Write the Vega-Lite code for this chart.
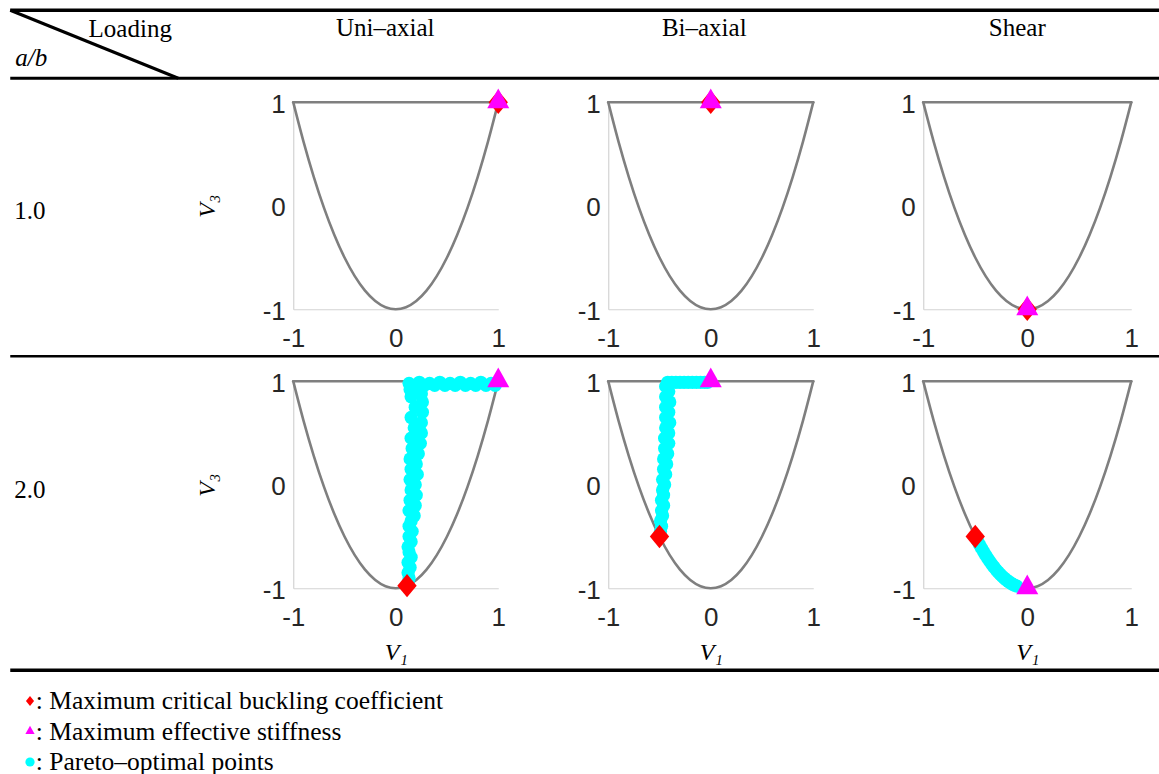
{
  "$schema": "https://vega.github.io/schema/vega-lite/v6.json",
  "background": "white",
  "padding": {"left": 8.25, "top": 8.25, "right": 0, "bottom": 0},
  "bounds": "flush",
  "align": "each",
  "columns": 4,
  "spacing": {"row": 72, "column": 110},
  "datasets": {
    "boundary": [
      {"edge": "curve", "v1": -1, "v3": 1},
      {"edge": "curve", "v1": -0.9, "v3": 0.62},
      {"edge": "curve", "v1": -0.8, "v3": 0.28},
      {"edge": "curve", "v1": -0.7, "v3": -0.02},
      {"edge": "curve", "v1": -0.6, "v3": -0.28},
      {"edge": "curve", "v1": -0.5, "v3": -0.5},
      {"edge": "curve", "v1": -0.4, "v3": -0.68},
      {"edge": "curve", "v1": -0.3, "v3": -0.82},
      {"edge": "curve", "v1": -0.2, "v3": -0.92},
      {"edge": "curve", "v1": -0.1, "v3": -0.98},
      {"edge": "curve", "v1": 0, "v3": -1},
      {"edge": "curve", "v1": 0.1, "v3": -0.98},
      {"edge": "curve", "v1": 0.2, "v3": -0.92},
      {"edge": "curve", "v1": 0.3, "v3": -0.82},
      {"edge": "curve", "v1": 0.4, "v3": -0.68},
      {"edge": "curve", "v1": 0.5, "v3": -0.5},
      {"edge": "curve", "v1": 0.6, "v3": -0.28},
      {"edge": "curve", "v1": 0.7, "v3": -0.02},
      {"edge": "curve", "v1": 0.8, "v3": 0.28},
      {"edge": "curve", "v1": 0.9, "v3": 0.62},
      {"edge": "curve", "v1": 1, "v3": 1},
      {"edge": "top", "v1": -1, "v3": 1},
      {"edge": "top", "v1": 1, "v3": 1}
    ],
    "markers": [
      {"panel": "U1", "kind": "Maximum critical buckling coefficient", "v1": 1, "v3": 1},
      {"panel": "U1", "kind": "Maximum effective stiffness", "v1": 1, "v3": 1},
      {"panel": "B1", "kind": "Maximum critical buckling coefficient", "v1": 0, "v3": 1},
      {"panel": "B1", "kind": "Maximum effective stiffness", "v1": 0, "v3": 1},
      {"panel": "S1", "kind": "Maximum critical buckling coefficient", "v1": 0, "v3": -1},
      {"panel": "S1", "kind": "Maximum effective stiffness", "v1": 0, "v3": -1},

      {"panel": "U2", "kind": "Pareto–optimal points", "v1": 0.12, "v3": -0.95},
      {"panel": "U2", "kind": "Pareto–optimal points", "v1": 0.13, "v3": -0.9},
      {"panel": "U2", "kind": "Pareto–optimal points", "v1": 0.12, "v3": -0.85},
      {"panel": "U2", "kind": "Pareto–optimal points", "v1": 0.14, "v3": -0.8},
      {"panel": "U2", "kind": "Pareto–optimal points", "v1": 0.12, "v3": -0.75},
      {"panel": "U2", "kind": "Pareto–optimal points", "v1": 0.15, "v3": -0.7},
      {"panel": "U2", "kind": "Pareto–optimal points", "v1": 0.13, "v3": -0.65},
      {"panel": "U2", "kind": "Pareto–optimal points", "v1": 0.12, "v3": -0.6},
      {"panel": "U2", "kind": "Pareto–optimal points", "v1": 0.15, "v3": -0.55},
      {"panel": "U2", "kind": "Pareto–optimal points", "v1": 0.13, "v3": -0.5},
      {"panel": "U2", "kind": "Pareto–optimal points", "v1": 0.16, "v3": -0.45},
      {"panel": "U2", "kind": "Pareto–optimal points", "v1": 0.13, "v3": -0.4},
      {"panel": "U2", "kind": "Pareto–optimal points", "v1": 0.15, "v3": -0.35},
      {"panel": "U2", "kind": "Pareto–optimal points", "v1": 0.18, "v3": -0.3},
      {"panel": "U2", "kind": "Pareto–optimal points", "v1": 0.13, "v3": -0.25},
      {"panel": "U2", "kind": "Pareto–optimal points", "v1": 0.19, "v3": -0.2},
      {"panel": "U2", "kind": "Pareto–optimal points", "v1": 0.14, "v3": -0.15},
      {"panel": "U2", "kind": "Pareto–optimal points", "v1": 0.2, "v3": -0.1},
      {"panel": "U2", "kind": "Pareto–optimal points", "v1": 0.15, "v3": -0.05},
      {"panel": "U2", "kind": "Pareto–optimal points", "v1": 0.19, "v3": 0},
      {"panel": "U2", "kind": "Pareto–optimal points", "v1": 0.14, "v3": 0.05},
      {"panel": "U2", "kind": "Pareto–optimal points", "v1": 0.21, "v3": 0.1},
      {"panel": "U2", "kind": "Pareto–optimal points", "v1": 0.15, "v3": 0.15},
      {"panel": "U2", "kind": "Pareto–optimal points", "v1": 0.2, "v3": 0.2},
      {"panel": "U2", "kind": "Pareto–optimal points", "v1": 0.14, "v3": 0.25},
      {"panel": "U2", "kind": "Pareto–optimal points", "v1": 0.22, "v3": 0.3},
      {"panel": "U2", "kind": "Pareto–optimal points", "v1": 0.16, "v3": 0.35},
      {"panel": "U2", "kind": "Pareto–optimal points", "v1": 0.24, "v3": 0.4},
      {"panel": "U2", "kind": "Pareto–optimal points", "v1": 0.15, "v3": 0.45},
      {"panel": "U2", "kind": "Pareto–optimal points", "v1": 0.25, "v3": 0.5},
      {"panel": "U2", "kind": "Pareto–optimal points", "v1": 0.18, "v3": 0.55},
      {"panel": "U2", "kind": "Pareto–optimal points", "v1": 0.25, "v3": 0.6},
      {"panel": "U2", "kind": "Pareto–optimal points", "v1": 0.15, "v3": 0.65},
      {"panel": "U2", "kind": "Pareto–optimal points", "v1": 0.26, "v3": 0.7},
      {"panel": "U2", "kind": "Pareto–optimal points", "v1": 0.19, "v3": 0.75},
      {"panel": "U2", "kind": "Pareto–optimal points", "v1": 0.26, "v3": 0.8},
      {"panel": "U2", "kind": "Pareto–optimal points", "v1": 0.15, "v3": 0.85},
      {"panel": "U2", "kind": "Pareto–optimal points", "v1": 0.25, "v3": 0.88},
      {"panel": "U2", "kind": "Pareto–optimal points", "v1": 0.14, "v3": 0.92},
      {"panel": "U2", "kind": "Pareto–optimal points", "v1": 0.21, "v3": 0.93},
      {"panel": "U2", "kind": "Pareto–optimal points", "v1": 0.13, "v3": 0.98},
      {"panel": "U2", "kind": "Pareto–optimal points", "v1": 0.18, "v3": 0.96},
      {"panel": "U2", "kind": "Pareto–optimal points", "v1": 0.23, "v3": 0.99},
      {"panel": "U2", "kind": "Pareto–optimal points", "v1": 0.28, "v3": 0.96},
      {"panel": "U2", "kind": "Pareto–optimal points", "v1": 0.33, "v3": 0.98},
      {"panel": "U2", "kind": "Pareto–optimal points", "v1": 0.38, "v3": 0.96},
      {"panel": "U2", "kind": "Pareto–optimal points", "v1": 0.43, "v3": 0.99},
      {"panel": "U2", "kind": "Pareto–optimal points", "v1": 0.48, "v3": 0.96},
      {"panel": "U2", "kind": "Pareto–optimal points", "v1": 0.53, "v3": 0.98},
      {"panel": "U2", "kind": "Pareto–optimal points", "v1": 0.58, "v3": 0.96},
      {"panel": "U2", "kind": "Pareto–optimal points", "v1": 0.63, "v3": 0.99},
      {"panel": "U2", "kind": "Pareto–optimal points", "v1": 0.68, "v3": 0.96},
      {"panel": "U2", "kind": "Pareto–optimal points", "v1": 0.73, "v3": 0.98},
      {"panel": "U2", "kind": "Pareto–optimal points", "v1": 0.78, "v3": 0.96},
      {"panel": "U2", "kind": "Pareto–optimal points", "v1": 0.83, "v3": 0.99},
      {"panel": "U2", "kind": "Pareto–optimal points", "v1": 0.88, "v3": 0.96},
      {"panel": "U2", "kind": "Pareto–optimal points", "v1": 0.93, "v3": 0.98},
      {"panel": "U2", "kind": "Pareto–optimal points", "v1": 0.97, "v3": 0.96},
      {"panel": "U2", "kind": "Maximum critical buckling coefficient", "v1": 0.11, "v3": -0.975},
      {"panel": "U2", "kind": "Maximum effective stiffness", "v1": 1, "v3": 1},

      {"panel": "B2", "kind": "Pareto–optimal points", "v1": -0.49, "v3": -0.45},
      {"panel": "B2", "kind": "Pareto–optimal points", "v1": -0.48, "v3": -0.4},
      {"panel": "B2", "kind": "Pareto–optimal points", "v1": -0.49, "v3": -0.35},
      {"panel": "B2", "kind": "Pareto–optimal points", "v1": -0.47, "v3": -0.3},
      {"panel": "B2", "kind": "Pareto–optimal points", "v1": -0.48, "v3": -0.25},
      {"panel": "B2", "kind": "Pareto–optimal points", "v1": -0.46, "v3": -0.2},
      {"panel": "B2", "kind": "Pareto–optimal points", "v1": -0.48, "v3": -0.15},
      {"panel": "B2", "kind": "Pareto–optimal points", "v1": -0.46, "v3": -0.1},
      {"panel": "B2", "kind": "Pareto–optimal points", "v1": -0.47, "v3": -0.05},
      {"panel": "B2", "kind": "Pareto–optimal points", "v1": -0.45, "v3": 0},
      {"panel": "B2", "kind": "Pareto–optimal points", "v1": -0.47, "v3": 0.05},
      {"panel": "B2", "kind": "Pareto–optimal points", "v1": -0.44, "v3": 0.1},
      {"panel": "B2", "kind": "Pareto–optimal points", "v1": -0.46, "v3": 0.15},
      {"panel": "B2", "kind": "Pareto–optimal points", "v1": -0.43, "v3": 0.2},
      {"panel": "B2", "kind": "Pareto–optimal points", "v1": -0.46, "v3": 0.25},
      {"panel": "B2", "kind": "Pareto–optimal points", "v1": -0.42, "v3": 0.3},
      {"panel": "B2", "kind": "Pareto–optimal points", "v1": -0.45, "v3": 0.35},
      {"panel": "B2", "kind": "Pareto–optimal points", "v1": -0.41, "v3": 0.4},
      {"panel": "B2", "kind": "Pareto–optimal points", "v1": -0.45, "v3": 0.45},
      {"panel": "B2", "kind": "Pareto–optimal points", "v1": -0.41, "v3": 0.5},
      {"panel": "B2", "kind": "Pareto–optimal points", "v1": -0.44, "v3": 0.55},
      {"panel": "B2", "kind": "Pareto–optimal points", "v1": -0.4, "v3": 0.6},
      {"panel": "B2", "kind": "Pareto–optimal points", "v1": -0.44, "v3": 0.65},
      {"panel": "B2", "kind": "Pareto–optimal points", "v1": -0.41, "v3": 0.7},
      {"panel": "B2", "kind": "Pareto–optimal points", "v1": -0.44, "v3": 0.75},
      {"panel": "B2", "kind": "Pareto–optimal points", "v1": -0.4, "v3": 0.8},
      {"panel": "B2", "kind": "Pareto–optimal points", "v1": -0.44, "v3": 0.85},
      {"panel": "B2", "kind": "Pareto–optimal points", "v1": -0.41, "v3": 0.9},
      {"panel": "B2", "kind": "Pareto–optimal points", "v1": -0.44, "v3": 0.95},
      {"panel": "B2", "kind": "Pareto–optimal points", "v1": -0.42, "v3": 0.99},
      {"panel": "B2", "kind": "Pareto–optimal points", "v1": -0.38, "v3": 0.99},
      {"panel": "B2", "kind": "Pareto–optimal points", "v1": -0.34, "v3": 0.99},
      {"panel": "B2", "kind": "Pareto–optimal points", "v1": -0.3, "v3": 0.99},
      {"panel": "B2", "kind": "Pareto–optimal points", "v1": -0.26, "v3": 0.99},
      {"panel": "B2", "kind": "Pareto–optimal points", "v1": -0.22, "v3": 0.99},
      {"panel": "B2", "kind": "Pareto–optimal points", "v1": -0.18, "v3": 0.99},
      {"panel": "B2", "kind": "Pareto–optimal points", "v1": -0.14, "v3": 0.99},
      {"panel": "B2", "kind": "Pareto–optimal points", "v1": -0.1, "v3": 0.99},
      {"panel": "B2", "kind": "Pareto–optimal points", "v1": -0.06, "v3": 0.99},
      {"panel": "B2", "kind": "Pareto–optimal points", "v1": -0.03, "v3": 0.99},
      {"panel": "B2", "kind": "Maximum critical buckling coefficient", "v1": -0.5, "v3": -0.5},
      {"panel": "B2", "kind": "Maximum effective stiffness", "v1": 0, "v3": 1},

      {"panel": "S2", "kind": "Pareto–optimal points", "v1": -0.48, "v3": -0.539},
      {"panel": "S2", "kind": "Pareto–optimal points", "v1": -0.46, "v3": -0.577},
      {"panel": "S2", "kind": "Pareto–optimal points", "v1": -0.44, "v3": -0.613},
      {"panel": "S2", "kind": "Pareto–optimal points", "v1": -0.42, "v3": -0.647},
      {"panel": "S2", "kind": "Pareto–optimal points", "v1": -0.4, "v3": -0.68},
      {"panel": "S2", "kind": "Pareto–optimal points", "v1": -0.38, "v3": -0.711},
      {"panel": "S2", "kind": "Pareto–optimal points", "v1": -0.36, "v3": -0.741},
      {"panel": "S2", "kind": "Pareto–optimal points", "v1": -0.34, "v3": -0.769},
      {"panel": "S2", "kind": "Pareto–optimal points", "v1": -0.32, "v3": -0.795},
      {"panel": "S2", "kind": "Pareto–optimal points", "v1": -0.3, "v3": -0.82},
      {"panel": "S2", "kind": "Pareto–optimal points", "v1": -0.28, "v3": -0.843},
      {"panel": "S2", "kind": "Pareto–optimal points", "v1": -0.26, "v3": -0.865},
      {"panel": "S2", "kind": "Pareto–optimal points", "v1": -0.24, "v3": -0.885},
      {"panel": "S2", "kind": "Pareto–optimal points", "v1": -0.22, "v3": -0.903},
      {"panel": "S2", "kind": "Pareto–optimal points", "v1": -0.2, "v3": -0.92},
      {"panel": "S2", "kind": "Pareto–optimal points", "v1": -0.18, "v3": -0.935},
      {"panel": "S2", "kind": "Pareto–optimal points", "v1": -0.16, "v3": -0.949},
      {"panel": "S2", "kind": "Pareto–optimal points", "v1": -0.14, "v3": -0.961},
      {"panel": "S2", "kind": "Pareto–optimal points", "v1": -0.12, "v3": -0.971},
      {"panel": "S2", "kind": "Pareto–optimal points", "v1": -0.1, "v3": -0.98},
      {"panel": "S2", "kind": "Maximum critical buckling coefficient", "v1": -0.5, "v3": -0.5},
      {"panel": "S2", "kind": "Maximum effective stiffness", "v1": 0, "v3": -1}
    ]
  },
  "concat": [
    {
      "width": 173, "height": 207,
      "data": {"values": [{"ratio": "1.0"}]},
      "layer": [
        {"mark": {"type": "rule", "color": "black", "strokeWidth": 3.5}, "encoding": {"x": {"value": 0}, "x2": {"value": 1149}, "y": {"value": -92}}},
        {"mark": {"type": "rule", "color": "black", "strokeWidth": 3}, "encoding": {"x": {"value": 0}, "x2": {"value": 1149}, "y": {"value": -24}}},
        {"mark": {"type": "rule", "color": "black", "strokeWidth": 3}, "encoding": {"x": {"value": 0}, "y": {"value": -92}, "x2": {"value": 168}, "y2": {"value": -24}}},
        {"mark": {"type": "rule", "color": "black", "strokeWidth": 2.5}, "encoding": {"x": {"value": 0}, "x2": {"value": 1149}, "y": {"value": 254}}},
        {"mark": {"type": "text", "text": "Loading", "align": "center", "baseline": "middle"}, "encoding": {"x": {"value": 120}, "y": {"value": -73}}},
        {"mark": {"type": "text", "text": "a/b", "fontStyle": "italic", "align": "center", "baseline": "middle"}, "encoding": {"x": {"value": 21}, "y": {"value": -44}}},
        {"mark": {"type": "text", "text": "Uni–axial", "align": "center", "baseline": "middle"}, "encoding": {"x": {"value": 375}, "y": {"value": -74}}},
        {"mark": {"type": "text", "text": "Bi–axial", "align": "center", "baseline": "middle"}, "encoding": {"x": {"value": 694}, "y": {"value": -74}}},
        {"mark": {"type": "text", "text": "Shear", "align": "center", "baseline": "middle"}, "encoding": {"x": {"value": 1007}, "y": {"value": -74}}},
        {"mark": {"type": "text", "align": "left", "baseline": "middle"}, "encoding": {"x": {"value": 4}, "y": {"value": 109}, "text": {"field": "ratio"}}}
      ]
    },
    {
      "width": 205, "height": 207,
      "encoding": {
        "x": {"field": "v1", "type": "quantitative", "scale": {"domain": [-1, 1], "nice": false, "zero": false}, "axis": {"values": [-1, 0, 1], "title": null, "labelExpr": "(datum.value < 0 ? '-' : '') + abs(datum.value)"}},
        "y": {"field": "v3", "type": "quantitative", "scale": {"domain": [-1, 1], "nice": false, "zero": false}, "axis": {"values": [-1, 0, 1], "title": "V₃", "titleX": -86, "titleY": 103.5, "titleBaseline": "middle", "labelExpr": "(datum.value < 0 ? '-' : '') + abs(datum.value)"}}
      },
      "layer": [
        {"data": {"name": "boundary"}, "mark": {"type": "line", "color": "#7f7f7f", "strokeWidth": 2.6, "interpolate": "monotone", "strokeCap": "round"}, "encoding": {"detail": {"field": "edge"}}},
        {
          "data": {"name": "markers"},
          "transform": [{"filter": "datum.panel === 'U1'"}],
          "mark": {"type": "point", "filled": true, "opacity": 1, "strokeWidth": 0},
          "encoding": {
            "color": {"field": "kind", "type": "nominal", "scale": {"domain": ["Maximum critical buckling coefficient", "Maximum effective stiffness", "Pareto–optimal points"], "range": ["#ff0000", "#ff00ff", "#00ffff"]}, "legend": {"title": null, "orient": "none", "legendX": 7, "legendY": 586, "labelExpr": "': ' + datum.label"}},
            "shape": {"field": "kind", "type": "nominal", "scale": {"domain": ["Maximum critical buckling coefficient", "Maximum effective stiffness", "Pareto–optimal points"], "range": ["M0,-1.06L0.88,0L0,1.06L-0.88,0Z", "M0,-1.25L1,0.55L-1,0.55Z", "circle"]}},
            "size": {"condition": {"test": "datum.kind === 'Pareto–optimal points'", "value": 175}, "value": 484}
          }
        }
      ]
    },
    {
      "width": 205, "height": 207,
      "encoding": {
        "x": {"field": "v1", "type": "quantitative", "scale": {"domain": [-1, 1], "nice": false, "zero": false}, "axis": {"values": [-1, 0, 1], "title": null, "labelExpr": "(datum.value < 0 ? '-' : '') + abs(datum.value)"}},
        "y": {"field": "v3", "type": "quantitative", "scale": {"domain": [-1, 1], "nice": false, "zero": false}, "axis": {"values": [-1, 0, 1], "title": null, "labelExpr": "(datum.value < 0 ? '-' : '') + abs(datum.value)"}}
      },
      "layer": [
        {"data": {"name": "boundary"}, "mark": {"type": "line", "color": "#7f7f7f", "strokeWidth": 2.6, "interpolate": "monotone", "strokeCap": "round"}, "encoding": {"detail": {"field": "edge"}}},
        {
          "data": {"name": "markers"},
          "transform": [{"filter": "datum.panel === 'B1'"}],
          "mark": {"type": "point", "filled": true, "opacity": 1, "strokeWidth": 0},
          "encoding": {
            "color": {"field": "kind", "type": "nominal", "scale": {"domain": ["Maximum critical buckling coefficient", "Maximum effective stiffness", "Pareto–optimal points"], "range": ["#ff0000", "#ff00ff", "#00ffff"]}, "legend": {"title": null, "orient": "none", "legendX": 7, "legendY": 586, "labelExpr": "': ' + datum.label"}},
            "shape": {"field": "kind", "type": "nominal", "scale": {"domain": ["Maximum critical buckling coefficient", "Maximum effective stiffness", "Pareto–optimal points"], "range": ["M0,-1.06L0.88,0L0,1.06L-0.88,0Z", "M0,-1.25L1,0.55L-1,0.55Z", "circle"]}},
            "size": {"condition": {"test": "datum.kind === 'Pareto–optimal points'", "value": 175}, "value": 484}
          }
        }
      ]
    },
    {
      "width": 208, "height": 207,
      "encoding": {
        "x": {"field": "v1", "type": "quantitative", "scale": {"domain": [-1, 1], "nice": false, "zero": false}, "axis": {"values": [-1, 0, 1], "title": null, "labelExpr": "(datum.value < 0 ? '-' : '') + abs(datum.value)"}},
        "y": {"field": "v3", "type": "quantitative", "scale": {"domain": [-1, 1], "nice": false, "zero": false}, "axis": {"values": [-1, 0, 1], "title": null, "labelExpr": "(datum.value < 0 ? '-' : '') + abs(datum.value)"}}
      },
      "layer": [
        {"data": {"name": "boundary"}, "mark": {"type": "line", "color": "#7f7f7f", "strokeWidth": 2.6, "interpolate": "monotone", "strokeCap": "round"}, "encoding": {"detail": {"field": "edge"}}},
        {
          "data": {"name": "markers"},
          "transform": [{"filter": "datum.panel === 'S1'"}],
          "mark": {"type": "point", "filled": true, "opacity": 1, "strokeWidth": 0},
          "encoding": {
            "color": {"field": "kind", "type": "nominal", "scale": {"domain": ["Maximum critical buckling coefficient", "Maximum effective stiffness", "Pareto–optimal points"], "range": ["#ff0000", "#ff00ff", "#00ffff"]}, "legend": {"title": null, "orient": "none", "legendX": 7, "legendY": 586, "labelExpr": "': ' + datum.label"}},
            "shape": {"field": "kind", "type": "nominal", "scale": {"domain": ["Maximum critical buckling coefficient", "Maximum effective stiffness", "Pareto–optimal points"], "range": ["M0,-1.06L0.88,0L0,1.06L-0.88,0Z", "M0,-1.25L1,0.55L-1,0.55Z", "circle"]}},
            "size": {"condition": {"test": "datum.kind === 'Pareto–optimal points'", "value": 175}, "value": 484}
          }
        }
      ]
    },
    {
      "width": 173, "height": 207,
      "data": {"values": [{"ratio": "2.0"}]},
      "layer": [
        {"mark": {"type": "rule", "color": "black", "strokeWidth": 3.5}, "encoding": {"x": {"value": 0}, "x2": {"value": 1149}, "y": {"value": 289}}},
        {"mark": {"type": "text", "align": "left", "baseline": "middle"}, "encoding": {"x": {"value": 4}, "y": {"value": 109}, "text": {"field": "ratio"}}}
      ]
    },
    {
      "width": 205, "height": 207,
      "encoding": {
        "x": {"field": "v1", "type": "quantitative", "scale": {"domain": [-1, 1], "nice": false, "zero": false}, "axis": {"values": [-1, 0, 1], "title": "V₁", "titleY": 64, "titleBaseline": "middle", "labelExpr": "(datum.value < 0 ? '-' : '') + abs(datum.value)"}},
        "y": {"field": "v3", "type": "quantitative", "scale": {"domain": [-1, 1], "nice": false, "zero": false}, "axis": {"values": [-1, 0, 1], "title": "V₃", "titleX": -86, "titleY": 103.5, "titleBaseline": "middle", "labelExpr": "(datum.value < 0 ? '-' : '') + abs(datum.value)"}}
      },
      "layer": [
        {"data": {"name": "boundary"}, "mark": {"type": "line", "color": "#7f7f7f", "strokeWidth": 2.6, "interpolate": "monotone", "strokeCap": "round"}, "encoding": {"detail": {"field": "edge"}}},
        {
          "data": {"name": "markers"},
          "transform": [{"filter": "datum.panel === 'U2'"}],
          "mark": {"type": "point", "filled": true, "opacity": 1, "strokeWidth": 0},
          "encoding": {
            "color": {"field": "kind", "type": "nominal", "scale": {"domain": ["Maximum critical buckling coefficient", "Maximum effective stiffness", "Pareto–optimal points"], "range": ["#ff0000", "#ff00ff", "#00ffff"]}, "legend": {"title": null, "orient": "none", "legendX": 7, "legendY": 586, "labelExpr": "': ' + datum.label"}},
            "shape": {"field": "kind", "type": "nominal", "scale": {"domain": ["Maximum critical buckling coefficient", "Maximum effective stiffness", "Pareto–optimal points"], "range": ["M0,-1.06L0.88,0L0,1.06L-0.88,0Z", "M0,-1.25L1,0.55L-1,0.55Z", "circle"]}},
            "size": {"condition": {"test": "datum.kind === 'Pareto–optimal points'", "value": 175}, "value": 484}
          }
        }
      ]
    },
    {
      "width": 205, "height": 207,
      "encoding": {
        "x": {"field": "v1", "type": "quantitative", "scale": {"domain": [-1, 1], "nice": false, "zero": false}, "axis": {"values": [-1, 0, 1], "title": "V₁", "titleY": 64, "titleBaseline": "middle", "labelExpr": "(datum.value < 0 ? '-' : '') + abs(datum.value)"}},
        "y": {"field": "v3", "type": "quantitative", "scale": {"domain": [-1, 1], "nice": false, "zero": false}, "axis": {"values": [-1, 0, 1], "title": null, "labelExpr": "(datum.value < 0 ? '-' : '') + abs(datum.value)"}}
      },
      "layer": [
        {"data": {"name": "boundary"}, "mark": {"type": "line", "color": "#7f7f7f", "strokeWidth": 2.6, "interpolate": "monotone", "strokeCap": "round"}, "encoding": {"detail": {"field": "edge"}}},
        {
          "data": {"name": "markers"},
          "transform": [{"filter": "datum.panel === 'B2'"}],
          "mark": {"type": "point", "filled": true, "opacity": 1, "strokeWidth": 0},
          "encoding": {
            "color": {"field": "kind", "type": "nominal", "scale": {"domain": ["Maximum critical buckling coefficient", "Maximum effective stiffness", "Pareto–optimal points"], "range": ["#ff0000", "#ff00ff", "#00ffff"]}, "legend": {"title": null, "orient": "none", "legendX": 7, "legendY": 586, "labelExpr": "': ' + datum.label"}},
            "shape": {"field": "kind", "type": "nominal", "scale": {"domain": ["Maximum critical buckling coefficient", "Maximum effective stiffness", "Pareto–optimal points"], "range": ["M0,-1.06L0.88,0L0,1.06L-0.88,0Z", "M0,-1.25L1,0.55L-1,0.55Z", "circle"]}},
            "size": {"condition": {"test": "datum.kind === 'Pareto–optimal points'", "value": 175}, "value": 484}
          }
        }
      ]
    },
    {
      "width": 208, "height": 207,
      "encoding": {
        "x": {"field": "v1", "type": "quantitative", "scale": {"domain": [-1, 1], "nice": false, "zero": false}, "axis": {"values": [-1, 0, 1], "title": "V₁", "titleY": 64, "titleBaseline": "middle", "labelExpr": "(datum.value < 0 ? '-' : '') + abs(datum.value)"}},
        "y": {"field": "v3", "type": "quantitative", "scale": {"domain": [-1, 1], "nice": false, "zero": false}, "axis": {"values": [-1, 0, 1], "title": null, "labelExpr": "(datum.value < 0 ? '-' : '') + abs(datum.value)"}}
      },
      "layer": [
        {"data": {"name": "boundary"}, "mark": {"type": "line", "color": "#7f7f7f", "strokeWidth": 2.6, "interpolate": "monotone", "strokeCap": "round"}, "encoding": {"detail": {"field": "edge"}}},
        {
          "data": {"name": "markers"},
          "transform": [{"filter": "datum.panel === 'S2'"}],
          "mark": {"type": "point", "filled": true, "opacity": 1, "strokeWidth": 0},
          "encoding": {
            "color": {"field": "kind", "type": "nominal", "scale": {"domain": ["Maximum critical buckling coefficient", "Maximum effective stiffness", "Pareto–optimal points"], "range": ["#ff0000", "#ff00ff", "#00ffff"]}, "legend": {"title": null, "orient": "none", "legendX": 7, "legendY": 586, "labelExpr": "': ' + datum.label"}},
            "shape": {"field": "kind", "type": "nominal", "scale": {"domain": ["Maximum critical buckling coefficient", "Maximum effective stiffness", "Pareto–optimal points"], "range": ["M0,-1.06L0.88,0L0,1.06L-0.88,0Z", "M0,-1.25L1,0.55L-1,0.55Z", "circle"]}},
            "size": {"condition": {"test": "datum.kind === 'Pareto–optimal points'", "value": 175}, "value": 484}
          }
        }
      ]
    }
  ],
  "config": {
    "view": {"stroke": null},
    "font": "Liberation Serif",
    "text": {"font": "Liberation Serif", "fontSize": 25, "color": "black"},
    "axis": {
      "grid": false,
      "ticks": false,
      "domainColor": "#d3d3d3",
      "domainWidth": 1.2,
      "labelFont": "Liberation Sans",
      "labelFontSize": 26,
      "labelColor": "#262626",
      "labelFlush": false,
      "labelOverlap": false,
      "titleFont": "Liberation Serif",
      "titleFontSize": 24,
      "titleFontStyle": "italic",
      "titleFontWeight": "normal",
      "titleColor": "black"
    },
    "axisX": {"labelPadding": 16},
    "axisY": {"labelPadding": 8, "labelOffset": 2},
    "legend": {
      "labelFont": "Liberation Serif",
      "labelFontSize": 25.5,
      "labelColor": "black",
      "labelLimit": 0,
      "labelOffset": -7,
      "symbolSize": 85,
      "symbolStrokeWidth": 0,
      "rowPadding": 3.5,
      "padding": 0
    }
  }
}
